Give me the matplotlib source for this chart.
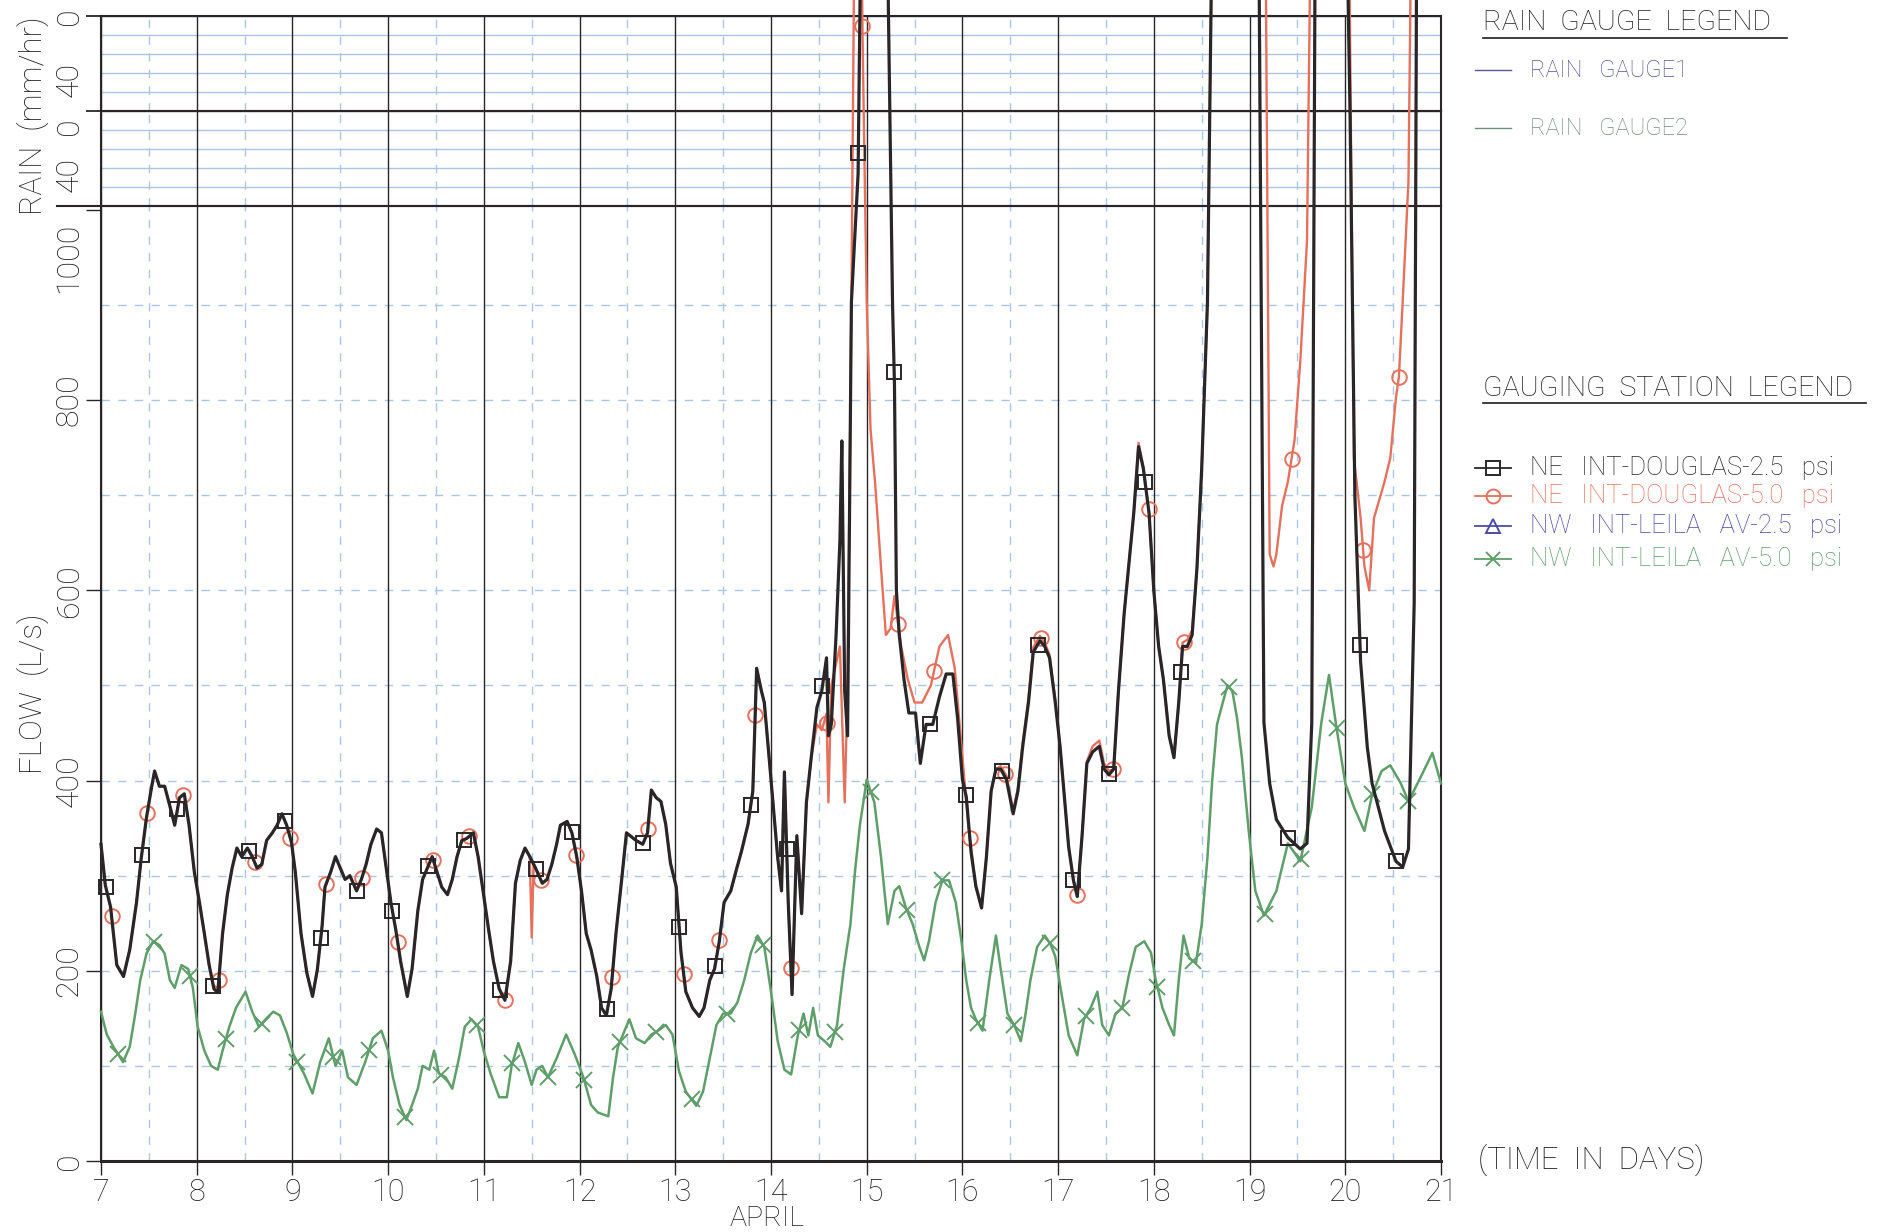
import numpy as np
import matplotlib
matplotlib.use("Agg")
import matplotlib.pyplot as plt
from matplotlib.lines import Line2D
import matplotlib.transforms as mtransforms

plt.rcParams['font.family'] = ['Roboto', 'DejaVu Sans']
plt.rcParams['font.weight'] = 'light'

# ---------------- data ----------------
day_ticks = list(range(7, 22))
flow_ticks = [0, 200, 400, 600, 800, 1000]
rain_ticks = [0, 40]
month_label = "APRIL"

# NE INT-DOUGLAS-2.5 psi  (day, flow L/s); 1400 = beyond the top of the sheet
ne25 = [(7.00, 333), (7.045, 290), (7.10, 267), (7.165, 206), (7.235, 194), (7.30, 222), (7.37, 271),
        (7.42, 318), (7.475, 361), (7.53, 394), (7.56, 410), (7.61, 394), (7.665, 394), (7.72, 373),
        (7.77, 353), (7.82, 382), (7.87, 386), (7.92, 353), (7.975, 304), (8.03, 271), (8.08, 239),
        (8.13, 206), (8.18, 181), (8.22, 177), (8.27, 239), (8.32, 280), (8.37, 308), (8.42, 329),
        (8.47, 320), (8.53, 329), (8.58, 320), (8.63, 308), (8.68, 312), (8.73, 337), (8.79, 345),
        (8.84, 353), (8.89, 365), (8.94, 353), (8.99, 335), (9.03, 304), (9.09, 239), (9.15, 198),
        (9.21, 173), (9.26, 201), (9.31, 247), (9.34, 288), (9.40, 304), (9.45, 320), (9.50, 308),
        (9.55, 296), (9.60, 300), (9.67, 284), (9.72, 296), (9.77, 312), (9.82, 333), (9.88, 349),
        (9.93, 345), (9.98, 308), (10.03, 271), (10.08, 243), (10.13, 210), (10.20, 173), (10.25, 202),
        (10.31, 263), (10.36, 296), (10.41, 308), (10.46, 320), (10.51, 304), (10.56, 288), (10.62, 280),
        (10.67, 296), (10.72, 320), (10.77, 337), (10.82, 339), (10.89, 345), (10.94, 320), (10.99, 285),
        (11.05, 243), (11.10, 210), (11.16, 181), (11.22, 169), (11.28, 210), (11.33, 292), (11.38, 316),
        (11.43, 329), (11.48, 320), (11.54, 308), (11.61, 292), (11.66, 296), (11.71, 312), (11.76, 333),
        (11.80, 353), (11.87, 357), (11.92, 345), (11.97, 320), (12.02, 284), (12.07, 239), (12.12, 222),
        (12.18, 194), (12.23, 161), (12.28, 153), (12.33, 181), (12.38, 239), (12.44, 296), (12.49, 345),
        (12.54, 341), (12.59, 337), (12.66, 333), (12.71, 345), (12.75, 390), (12.80, 382), (12.85, 378),
        (12.90, 354), (12.95, 313), (13.01, 288), (13.06, 219), (13.11, 178), (13.18, 161), (13.25, 152),
        (13.30, 161), (13.36, 190), (13.41, 202), (13.46, 231), (13.51, 272), (13.58, 284), (13.64, 307),
        (13.69, 325), (13.76, 354), (13.81, 389), (13.85, 518), (13.90, 494), (13.93, 482), (13.97, 436),
        (14.02, 377), (14.07, 319), (14.11, 284), (14.14, 409), (14.18, 272), (14.22, 175), (14.27, 342),
        (14.32, 260), (14.37, 377), (14.42, 424), (14.48, 477), (14.53, 494), (14.58, 529), (14.60, 447),
        (14.63, 459), (14.68, 553), (14.72, 652), (14.74, 757), (14.77, 494), (14.80, 447), (14.84, 903),
        (14.91, 1038), (14.95, 1400), (15.20, 1400), (15.27, 900), (15.29, 816), (15.31, 600), (15.34, 553),
        (15.39, 506), (15.44, 471), (15.51, 471), (15.56, 418), (15.62, 459), (15.69, 459), (15.76, 488),
        (15.83, 512), (15.90, 512), (15.95, 465), (16.00, 401), (16.04, 383), (16.09, 325), (16.14, 289),
        (16.20, 266), (16.25, 319), (16.30, 389), (16.35, 412), (16.40, 412), (16.46, 401), (16.53, 365),
        (16.58, 389), (16.63, 436), (16.69, 482), (16.74, 535), (16.81, 547), (16.86, 541), (16.91, 529),
        (16.97, 482), (17.02, 436), (17.07, 377), (17.11, 330), (17.16, 295), (17.20, 278), (17.25, 342),
        (17.30, 418), (17.36, 430), (17.43, 436), (17.48, 412), (17.53, 406), (17.58, 412), (17.63, 494),
        (17.69, 576), (17.74, 629), (17.79, 681), (17.84, 751), (17.89, 728), (17.95, 681), (18.00, 599),
        (18.05, 541), (18.10, 506), (18.16, 447), (18.21, 424), (18.26, 482), (18.30, 541), (18.35, 541),
        (18.40, 553), (18.45, 623), (18.50, 728), (18.56, 903), (18.62, 1400), (19.09, 1400), (19.15, 461),
        (19.21, 397), (19.28, 359), (19.40, 340), (19.53, 328), (19.60, 334), (19.65, 461), (19.69, 1400),
        (20.00, 1400), (20.05, 1100), (20.10, 700), (20.16, 525), (20.23, 435), (20.28, 397), (20.41, 347),
        (20.53, 315), (20.60, 309), (20.66, 328), (20.72, 587), (20.75, 1400), (21.00, 1400)]

# NE INT-DOUGLAS-5.0 psi
ne50 = [(7.00, 333), (7.045, 290), (7.10, 267), (7.165, 206), (7.235, 194), (7.30, 222), (7.37, 271),
        (7.42, 318), (7.475, 361), (7.53, 394), (7.56, 410), (7.61, 394), (7.665, 394), (7.72, 373),
        (7.77, 353), (7.82, 382), (7.87, 386), (7.92, 353), (7.975, 304), (8.03, 271), (8.08, 239),
        (8.13, 206), (8.18, 181), (8.22, 177), (8.27, 239), (8.32, 280), (8.37, 308), (8.42, 329),
        (8.47, 320), (8.53, 329), (8.58, 320), (8.63, 308), (8.68, 312), (8.73, 337), (8.79, 345),
        (8.84, 353), (8.89, 365), (8.94, 353), (8.99, 335), (9.03, 304), (9.09, 239), (9.15, 198),
        (9.21, 173), (9.26, 201), (9.31, 247), (9.34, 288), (9.40, 304), (9.45, 320), (9.50, 308),
        (9.55, 296), (9.60, 300), (9.67, 284), (9.72, 296), (9.77, 312), (9.82, 333), (9.88, 349),
        (9.93, 345), (9.98, 308), (10.03, 271), (10.08, 243), (10.13, 210), (10.20, 173), (10.25, 202),
        (10.31, 263), (10.36, 296), (10.41, 308), (10.46, 320), (10.51, 304), (10.56, 288), (10.62, 280),
        (10.67, 296), (10.72, 320), (10.77, 337), (10.82, 339), (10.89, 345), (10.94, 320), (10.99, 285),
        (11.05, 243), (11.10, 210), (11.16, 181), (11.22, 169), (11.28, 210), (11.33, 292), (11.38, 316),
        (11.43, 329), (11.48, 320), (11.50, 235), (11.52, 312), (11.54, 308), (11.61, 292), (11.66, 296),
        (11.71, 312), (11.76, 333), (11.80, 353), (11.87, 357), (11.92, 345), (11.97, 320), (12.02, 284),
        (12.07, 239), (12.12, 222), (12.18, 194), (12.23, 161), (12.28, 153), (12.33, 181), (12.38, 239),
        (12.44, 296), (12.49, 345), (12.54, 341), (12.59, 337), (12.66, 333), (12.71, 345), (12.75, 390),
        (12.80, 382), (12.85, 378), (12.90, 354), (12.95, 313), (13.01, 288), (13.06, 219), (13.11, 178),
        (13.18, 161), (13.25, 152), (13.30, 161), (13.36, 190), (13.41, 202), (13.46, 231), (13.51, 272),
        (13.58, 284), (13.64, 307), (13.69, 325), (13.76, 354), (13.81, 389), (13.85, 518), (13.90, 494),
        (13.93, 482), (13.97, 436), (14.02, 377), (14.07, 319), (14.11, 284), (14.14, 409), (14.18, 272),
        (14.22, 175), (14.27, 342), (14.32, 260), (14.37, 377), (14.42, 424), (14.48, 459), (14.53, 453),
        (14.58, 470), (14.60, 377), (14.63, 500), (14.68, 523), (14.72, 541), (14.77, 377), (14.80, 500),
        (14.84, 903), (14.88, 1400), (14.93, 1400), (14.96, 1158), (15.00, 903), (15.04, 769), (15.09, 710),
        (15.15, 623), (15.20, 553), (15.25, 560), (15.29, 594), (15.36, 541), (15.43, 506), (15.50, 482),
        (15.58, 482), (15.67, 500), (15.76, 541), (15.85, 553), (15.92, 518), (15.97, 459), (16.02, 401),
        (16.07, 345), (16.14, 289), (16.20, 266), (16.25, 319), (16.30, 389), (16.35, 412), (16.40, 415),
        (16.46, 405), (16.53, 368), (16.58, 392), (16.63, 440), (16.69, 486), (16.74, 540), (16.81, 552),
        (16.86, 545), (16.91, 532), (16.97, 485), (17.02, 436), (17.07, 377), (17.11, 330), (17.16, 295),
        (17.20, 278), (17.25, 342), (17.30, 420), (17.36, 436), (17.43, 442), (17.48, 418), (17.53, 410),
        (17.58, 412), (17.63, 494), (17.69, 576), (17.74, 629), (17.79, 681), (17.84, 755), (17.89, 730),
        (17.95, 681), (18.00, 599), (18.05, 541), (18.10, 506), (18.16, 447), (18.21, 424), (18.26, 482),
        (18.30, 545), (18.35, 548), (18.40, 558), (18.45, 623), (18.50, 728), (18.56, 903), (18.62, 1400),
        (19.16, 1400), (19.21, 638), (19.25, 625), (19.28, 638), (19.34, 689), (19.40, 714), (19.47, 758),
        (19.53, 841), (19.60, 967), (19.65, 1400), (20.03, 1400), (20.09, 739), (20.16, 676), (20.20, 625),
        (20.25, 600), (20.30, 676), (20.41, 714), (20.47, 739), (20.53, 803), (20.56, 824), (20.60, 904),
        (20.66, 1030), (20.70, 1400), (21.00, 1400)]

# NW INT-LEILA AV-5.0 psi
nw50 = [(7.00, 157), (7.06, 133), (7.13, 120), (7.23, 104), (7.30, 120), (7.355, 153), (7.41, 190),
        (7.475, 218), (7.545, 231), (7.61, 227), (7.665, 218), (7.72, 190), (7.77, 182), (7.84, 206),
        (7.91, 202), (7.96, 182), (8.01, 141), (8.08, 116), (8.15, 100), (8.22, 96), (8.27, 116),
        (8.34, 141), (8.41, 161), (8.51, 178), (8.58, 157), (8.65, 141), (8.72, 149), (8.80, 157),
        (8.87, 153), (8.94, 135), (9.01, 112), (9.12, 92), (9.21, 71), (9.29, 104), (9.38, 129),
        (9.45, 100), (9.52, 116), (9.58, 88), (9.67, 80), (9.76, 104), (9.84, 129), (9.93, 137),
        (10.00, 116), (10.05, 88), (10.12, 59), (10.19, 43), (10.25, 59), (10.31, 76), (10.36, 100),
        (10.43, 96), (10.48, 116), (10.53, 92), (10.60, 88), (10.67, 76), (10.74, 108), (10.80, 141),
        (10.87, 149), (10.94, 141), (11.00, 115), (11.07, 92), (11.16, 67), (11.24, 67), (11.29, 100),
        (11.36, 124), (11.43, 104), (11.50, 80), (11.55, 96), (11.61, 100), (11.67, 88), (11.76, 108),
        (11.86, 133), (11.95, 112), (12.04, 88), (12.12, 59), (12.19, 51), (12.30, 47), (12.35, 88),
        (12.40, 120), (12.47, 137), (12.52, 149), (12.59, 129), (12.68, 124), (12.75, 133), (12.82, 137),
        (12.90, 143), (12.97, 133), (13.04, 94), (13.11, 73), (13.22, 58), (13.29, 73), (13.36, 108),
        (13.43, 143), (13.50, 155), (13.58, 155), (13.65, 167), (13.72, 190), (13.79, 219), (13.86, 237),
        (13.93, 225), (14.00, 178), (14.07, 126), (14.14, 96), (14.21, 91), (14.28, 132), (14.34, 155),
        (14.39, 132), (14.44, 161), (14.49, 132), (14.56, 126), (14.62, 120), (14.69, 143), (14.76, 202),
        (14.83, 249), (14.88, 307), (14.93, 354), (15.00, 401), (15.08, 377), (15.15, 319), (15.22, 249),
        (15.29, 284), (15.34, 289), (15.41, 266), (15.48, 249), (15.55, 225), (15.60, 211), (15.65, 231),
        (15.72, 272), (15.79, 295), (15.86, 295), (15.93, 272), (15.99, 231), (16.04, 190), (16.09, 161),
        (16.14, 149), (16.21, 137), (16.28, 190), (16.35, 237), (16.40, 202), (16.47, 155), (16.54, 143),
        (16.61, 126), (16.66, 155), (16.71, 190), (16.78, 225), (16.86, 237), (16.92, 228), (16.97, 215),
        (17.04, 173), (17.11, 132), (17.20, 111), (17.27, 149), (17.34, 161), (17.41, 178), (17.46, 143),
        (17.53, 132), (17.60, 155), (17.67, 161), (17.74, 196), (17.81, 225), (17.90, 231), (17.97, 219),
        (18.02, 190), (18.09, 161), (18.16, 143), (18.21, 132), (18.26, 190), (18.31, 237), (18.37, 213),
        (18.44, 208), (18.50, 249), (18.56, 319), (18.61, 401), (18.66, 459), (18.72, 482), (18.77, 500),
        (18.82, 494), (18.87, 465), (18.92, 424), (18.99, 348), (19.06, 284), (19.15, 258), (19.28, 284),
        (19.40, 334), (19.53, 315), (19.65, 372), (19.75, 461), (19.83, 511), (19.90, 461), (20.00, 397),
        (20.09, 372), (20.20, 347), (20.28, 385), (20.38, 410), (20.47, 416), (20.58, 397), (20.66, 378),
        (20.79, 404), (20.91, 429), (21.00, 397)]

# rain gauges (no rain recorded in the period)
rain1 = [(7.0, 0.0), (21.0, 0.0)]
rain2 = [(7.0, 0.0), (21.0, 0.0)]

series_names = ["NE   INT-DOUGLAS-2.5   psi", "NE   INT-DOUGLAS-5.0   psi",
                "NW   INT-LEILA   AV-2.5   psi", "NW   INT-LEILA   AV-5.0   psi"]
rain_names = ["RAIN   GAUGE1", "RAIN   GAUGE2"]

# ---------------- styling ----------------
W, H = 1888, 1232
C_BLACK = '#2a2628'
C_RED = '#e5705c'
C_BLUE = '#4b4ba8'
C_GREEN = '#5e9e68'
C_GRID = '#a9c6e8'
C_TEXT = '#1e1e1e'
C_RAIN1 = '#55559a'
C_RAIN2 = '#6f8f7d'

def fx(px):
    return px / W

def fy(py):
    return 1 - py / H

fig = plt.figure(figsize=(W / 100, H / 100), dpi=100)
fig.patch.set_facecolor('white')

L, R = 101, 1441
ax_r1 = fig.add_axes([fx(L), fy(111), fx(R) - fx(L), fy(16) - fy(111)])
ax_r2 = fig.add_axes([fx(L), fy(206), fx(R) - fx(L), fy(111) - fy(206)])
ax = fig.add_axes([fx(L), fy(1161), fx(R) - fx(L), fy(206) - fy(1161)])

dash = (0, (6, 6))
x0, x1 = day_ticks[0], day_ticks[-1]

for rax, data, col in [(ax_r1, rain1, C_RAIN1), (ax_r2, rain2, C_RAIN2)]:
    rax.set_xlim(x0, x1)
    rax.set_ylim(60, 0)
    rax.patch.set_alpha(0)
    for lv in [12, 24, 36, 48]:
        rax.axhline(lv, color=C_GRID, lw=1.0, zorder=0.5)
    for d in day_ticks:
        rax.axvline(d, color=C_BLACK, lw=1.0, zorder=0.6)
        if d < x1:
            rax.axvline(d + 0.5, color=C_GRID, lw=1.0, ls=dash, zorder=0.5)
    t, v = zip(*data)
    rax.plot(t, v, color=col, lw=1.0, zorder=0.4)
    rax.set_xticks([])
    rax.set_yticks([0])
    rax.set_yticklabels([])
    rax.tick_params(axis='y', direction='out', length=11, width=1.3, color=C_BLACK)
    for s in rax.spines.values():
        s.set_color(C_BLACK)
        s.set_linewidth(1.5)

# flow axes
ax.set_xlim(x0, x1)
ax.set_ylim(0, 1004)
ax.patch.set_alpha(0)
for lv in range(100, 1000, 100):
    ax.axhline(lv, color=C_GRID, lw=1.0, ls=dash, zorder=0.5)
for d in day_ticks:
    ax.axvline(d, color=C_BLACK, lw=1.0, zorder=0.6)
    if d < x1:
        ax.axvline(d + 0.5, color=C_GRID, lw=1.0, ls=dash, zorder=0.5)
for s in ax.spines.values():
    s.set_color(C_BLACK)
    s.set_linewidth(1.5)
ax.spines['bottom'].set_linewidth(2.2)

ax.set_xticks(day_ticks)
ax.set_xticklabels([str(d) for d in day_ticks], fontsize=22, color=C_TEXT)
ax.tick_params(axis='x', direction='out', length=10, width=1.0, color=C_BLACK, pad=2)
ax.set_yticks(flow_ticks)
ax.set_yticklabels([])
ax.tick_params(axis='y', direction='out', length=11, width=1.0, color=C_BLACK)

# long boundary tick between rain and flow panels
fig.add_artist(Line2D([fx(57), fx(L)], [fy(206), fy(206)], color=C_BLACK, lw=1.5))

# rotated y tick labels
YT = 23
trf = mtransforms.blended_transform_factory(fig.transFigure, ax.transData)
for v in flow_ticks:
    if v == flow_ticks[-1]:
        ax.text(fx(69), v - 14, str(v), transform=trf, rotation=90, ha='center', va='top',
                fontsize=YT, color=C_TEXT)
    else:
        ax.text(fx(69), v, str(v), transform=trf, rotation=90, ha='center', va='center',
                fontsize=YT, color=C_TEXT)
for rax, offs in [(ax_r1, [0, 0]), (ax_r2, [9.5, 0])]:
    tr = mtransforms.blended_transform_factory(fig.transFigure, rax.transData)
    for v, o in zip(rain_ticks, offs):
        rax.text(fx(69), v + o, str(v), transform=tr, rotation=90, ha='center', va='center',
                 fontsize=YT, color=C_TEXT)

fig.text(fx(33), fy(694), "FLOW  (L/s)", rotation=90, ha='center', va='center', fontsize=22.5, color=C_TEXT)
fig.text(fx(33), fy(116), "RAIN  (mm/hr)", rotation=90, ha='center', va='center', fontsize=22.5, color=C_TEXT)
fig.text(fx(767), fy(1219), month_label, ha='center', va='center', fontsize=20.5, color=C_TEXT)
fig.text(fx(1478), fy(1160), "(TIME  IN  DAYS)", ha='left', va='center', fontsize=22.5, color=C_TEXT)

# flow series
specs = [
    (ne25, C_BLACK, 's', 7.05, 0.3744, 2.3, 10.5, 3),
    (ne50, C_RED, 'o', 7.11, 0.3736, 1.7, 10.5, 2.9),
    (nw50, C_GREEN, 'x', 7.18, 0.3744, 1.8, 11, 2.8),
]
for data, col, mk, start, step, lw, ms, zo in specs:
    t = np.array([p[0] for p in data])
    v = np.array([p[1] for p in data])
    mtimes = np.arange(start, x1, step)
    ax.plot(t, v, color=col, lw=lw, zorder=zo, clip_on=False)
    # markers sit on the drawn line at regular recording intervals
    ax.plot(mtimes, np.interp(mtimes, t, v), ls='none', marker=mk, ms=ms, mfc='none', mec=col,
            mew=1.4, zorder=zo + 0.05, clip_on=False)

# ---------------- legends ----------------
def title(xp, yp, xe, s):
    fig.text(fx(xp), fy(yp), s, ha='left', va='center', fontsize=20.5, color=C_TEXT)
    fig.add_artist(Line2D([fx(xp), fx(xe)], [fy(yp + 15), fy(yp + 15)], color=C_TEXT, lw=1.2))

title(1483, 23, 1787, "RAIN  GAUGE  LEGEND")
for name, col, yp in [(rain_names[0], C_RAIN1, 70), (rain_names[1], C_RAIN2, 128)]:
    fig.add_artist(Line2D([fx(1475), fx(1511)], [fy(yp), fy(yp)], color=col, lw=1.0))
    fig.text(fx(1530), fy(yp), name, ha='left', va='center', fontsize=17, color=col)

title(1483, 388, 1866, "GAUGING  STATION  LEGEND")
leg = [(series_names[0], C_BLACK, 's', 468), (series_names[1], C_RED, 'o', 496),
       (series_names[2], C_BLUE, '^', 526), (series_names[3], C_GREEN, 'x', 559)]
for name, col, mk, yp in leg:
    fig.add_artist(Line2D([fx(1475), fx(1511)], [fy(yp), fy(yp)], color=col, lw=1.3))
    fig.add_artist(Line2D([fx(1493)], [fy(yp)], marker=mk, ms=10, mfc='none', mec=col, mew=1.4,
                          ls='none'))
    fig.text(fx(1530), fy(yp), name, ha='left', va='center', fontsize=18.5, color=col)

fig.savefig("out.png", dpi=100, facecolor='white')
